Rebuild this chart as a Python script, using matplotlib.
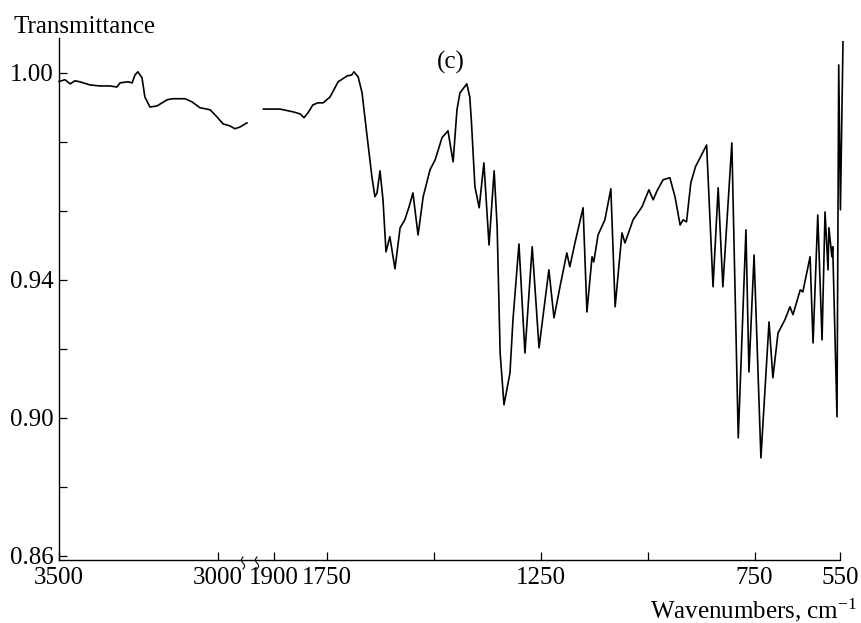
import numpy as np
import matplotlib
matplotlib.use("Agg")
import matplotlib.pyplot as plt

plt.rcParams['font.family'] = ['Liberation Serif', 'DejaVu Serif']
plt.rcParams['mathtext.fontset'] = 'custom'
plt.rcParams['mathtext.rm'] = 'Liberation Serif'
plt.rcParams['mathtext.it'] = 'Liberation Serif:italic'

# ---- data ----
wn_high = [3500, 3481, 3465, 3450, 3434, 3403, 3371, 3340, 3318, 3308, 3283, 3270,
           3261, 3252, 3239, 3230, 3214, 3192, 3160, 3142, 3104, 3082, 3057, 3025,
           3003, 2984, 2962, 2947, 2931, 2909]
tr_high = [0.9975, 0.9980, 0.9968, 0.9977, 0.9974, 0.9965, 0.9962, 0.9962, 0.9959,
           0.9971, 0.9974, 0.9971, 0.9994, 1.0003, 0.9986, 0.9930, 0.9901, 0.9904,
           0.9922, 0.9925, 0.9925, 0.9916, 0.9899, 0.9893, 0.9872, 0.9852, 0.9846,
           0.9838, 0.9843, 0.9855]

wn_low = [1930, 1883, 1846, 1826, 1815, 1804, 1790, 1776, 1761, 1743, 1724, 1703,
          1692, 1687, 1677, 1668, 1656, 1645, 1638, 1633, 1626, 1619, 1612, 1603,
          1591, 1579, 1568, 1558, 1549, 1537, 1525, 1509, 1497, 1481, 1467, 1455,
          1446, 1439, 1423, 1416, 1412, 1404, 1394, 1383, 1371, 1359, 1352, 1345,
          1336, 1322, 1315, 1301, 1287, 1270, 1254, 1231, 1219, 1205, 1189, 1182,
          1170, 1151, 1142, 1130, 1126, 1116, 1100, 1086, 1076, 1060, 1053, 1034,
          1013, 997, 987, 978, 964, 948, 936, 924, 917, 909, 899, 888, 876, 862,
          847, 835, 824, 803, 788, 770, 763, 751, 735, 716, 707, 695, 679, 667,
          660, 643, 637, 620, 613, 602, 592, 585, 578, 576, 569, 567, 557, 553,
          549, 543]
tr_low = [0.9895, 0.9895, 0.9887, 0.9881, 0.9870, 0.9884, 0.9907, 0.9913, 0.9913,
          0.9930, 0.9974, 0.9991, 0.9994, 1.0003, 0.9988, 0.9942, 0.9814, 0.9699,
          0.9641, 0.9652, 0.9716, 0.9632, 0.9481, 0.9525, 0.9432, 0.9551, 0.9574,
          0.9612, 0.9652, 0.9530, 0.9641, 0.9719, 0.9748, 0.9812, 0.9832, 0.9742,
          0.9893, 0.9942, 0.9968, 0.9930, 0.9855, 0.9670, 0.9609, 0.9739, 0.9501,
          0.9716, 0.9554, 0.9188, 0.9038, 0.9130, 0.9284, 0.9504, 0.9188, 0.9496,
          0.9203, 0.9429, 0.9290, 0.9380, 0.9478, 0.9438, 0.9507, 0.9609, 0.9307,
          0.9467, 0.9452, 0.9530, 0.9574, 0.9664, 0.9322, 0.9536, 0.9507, 0.9574,
          0.9612, 0.9661, 0.9632, 0.9658, 0.9690, 0.9696, 0.9641, 0.9559, 0.9574,
          0.9568, 0.9681, 0.9728, 0.9757, 0.9791, 0.9380, 0.9667, 0.9380, 0.9797,
          0.8942, 0.9545, 0.9133, 0.9472, 0.8884, 0.9278, 0.9116, 0.9246, 0.9284,
          0.9322, 0.9299, 0.9371, 0.9365, 0.9467, 0.9217, 0.9588, 0.9226, 0.9597,
          0.9429, 0.9551, 0.9467, 0.9496, 0.9003, 1.0023, 0.9603, 1.0090]

x_ticks = [3500, 3000, 1900, 1750, 1500, 1250, 1000, 750, 550]
x_ticklabels = ['3500', '3000', '1900', '1750', '', '1250', '', '750', '550']
y_ticks = [0.86, 0.88, 0.90, 0.92, 0.94, 0.96, 0.98, 1.00]
y_ticklabels = ['0.86', '', '0.90', '', '0.94', '', '', '1.00']

# ---- piecewise (broken) wavenumber scale, monotonically increasing in w ----
_W = np.array([400, 550, 1750, 1950, 2890, 3500, 4000], dtype=float)
_P = -np.array([904, 840, 327, 256.3, 253, 59, -100], dtype=float)


def fwd(w):
    return np.interp(np.asarray(w, dtype=float), _W, _P)


def inv(p):
    return np.interp(np.asarray(p, dtype=float), _P, _W)


fig = plt.figure(figsize=(8.61, 6.23), dpi=100)
ax = fig.add_axes([59 / 861, 1 - 560 / 623, (840 - 59) / 861, (560 - 38) / 623])
ax.set_xscale('function', functions=(fwd, inv))

ax.plot(wn_high, tr_high, color='black', lw=1.2, clip_on=False)
ax.plot(wn_low, tr_low, color='black', lw=1.2, clip_on=False)

ax.set_xlim(3500, 550)
ax.set_ylim(0.8588, 1.0101)

ax.set_xticks(x_ticks)
ax.set_xticklabels(x_ticklabels)
ax.set_yticks(y_ticks)
ax.set_yticklabels(y_ticklabels)
ax.xaxis.set_minor_locator(matplotlib.ticker.NullLocator())
ax.yaxis.set_minor_locator(matplotlib.ticker.NullLocator())
ax.tick_params(direction='in', length=6, width=0.9, labelsize=18, pad=5,
               colors='black')
ax.tick_params(axis='y', pad=4)

for s in ['top', 'right']:
    ax.spines[s].set_visible(False)
for s in ['left', 'bottom']:
    ax.spines[s].set_linewidth(1.0)

# break marks on x axis
t = np.linspace(0, 1, 40)
W_ax = 781.0
H_ax = 522.0
for xpix in (243, 257):
    x0 = (xpix - 59) / W_ax
    xs = x0 + (1.6 / W_ax) * np.sin(2 * np.pi * t)
    ys = (-9 + 12 * t) / H_ax
    ax.plot(xs, ys, color='black', lw=0.8, transform=ax.transAxes, clip_on=False)
ax.plot([(243 - 59) / W_ax + 0.002, (257 - 59) / W_ax - 0.002], [0, 0],
        color='white', lw=0.6, transform=ax.transAxes, clip_on=False)

fig.text(13 / 861, 1 - 33 / 623, 'Transmittance', fontsize=18, ha='left',
         va='baseline')
fig.text(451 / 861, 1 - 68.5 / 623, '(c)', fontsize=18, ha='center',
         va='baseline')
fig.text(857 / 861, 1 - 618 / 623, r'Wavenumbers, cm$^{-1}$', fontsize=18,
         ha='right', va='baseline')

fig.savefig('out.png', dpi=100)
